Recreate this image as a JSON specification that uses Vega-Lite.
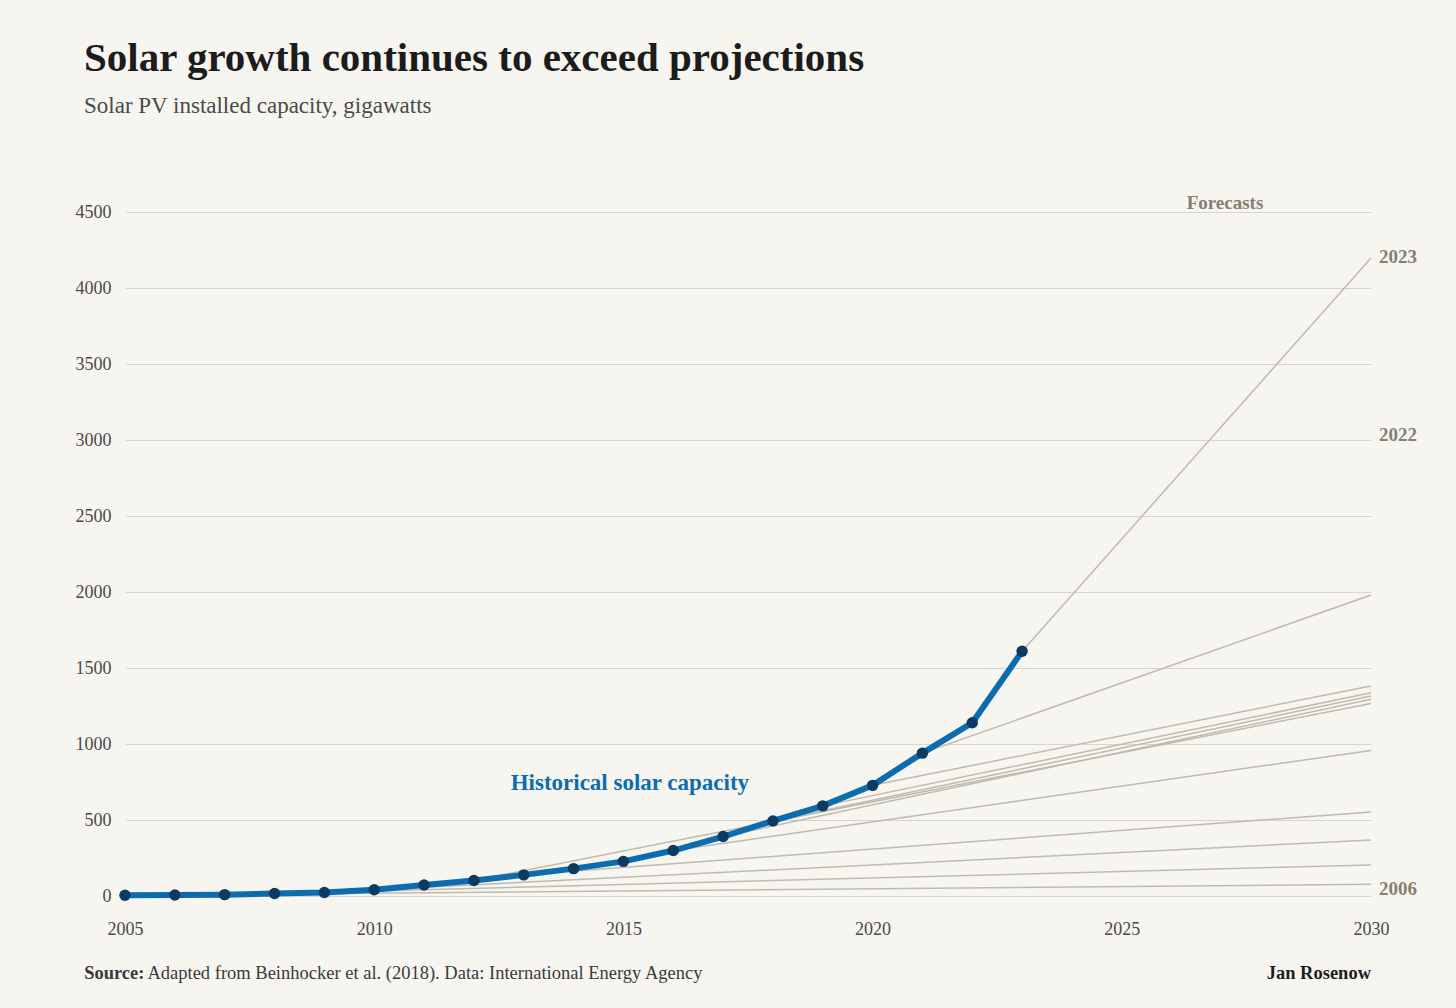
{
  "$schema": "https://vega.github.io/schema/vega-lite/v6.json",
  "width": 1246,
  "height": 684,
  "autosize": {"type": "none"},
  "padding": {"left": 125, "top": 212, "right": 85, "bottom": 112},
  "background": "#f7f5f0",
  "title": {
    "text": "Solar growth continues to exceed projections",
    "subtitle": "Solar PV installed capacity, gigawatts",
    "anchor": "start",
    "frame": "group",
    "dx": -41,
    "offset": 75,
    "font": "Liberation Serif",
    "fontSize": 41,
    "fontWeight": "bold",
    "color": "#1c1c1c",
    "subtitleFont": "Liberation Serif",
    "subtitleFontSize": 23,
    "subtitleColor": "#4a4a4a",
    "subtitlePadding": 15
  },
  "config": {
    "view": {"stroke": null},
    "font": "Liberation Serif"
  },
  "datasets": {
    "historical": [
      {"year": 2005, "gw": 5}, {"year": 2006, "gw": 7}, {"year": 2007, "gw": 9},
      {"year": 2008, "gw": 16}, {"year": 2009, "gw": 23}, {"year": 2010, "gw": 41},
      {"year": 2011, "gw": 72}, {"year": 2012, "gw": 102}, {"year": 2013, "gw": 139},
      {"year": 2014, "gw": 180}, {"year": 2015, "gw": 228}, {"year": 2016, "gw": 299},
      {"year": 2017, "gw": 391}, {"year": 2018, "gw": 494}, {"year": 2019, "gw": 593},
      {"year": 2020, "gw": 728}, {"year": 2021, "gw": 940}, {"year": 2022, "gw": 1140},
      {"year": 2023, "gw": 1610}
    ],
    "forecasts": [
      {"forecast": "2006", "year": 2006, "gw": 7}, {"forecast": "2006", "year": 2030, "gw": 77},
      {"forecast": "2008", "year": 2008, "gw": 16}, {"forecast": "2008", "year": 2030, "gw": 204},
      {"forecast": "2010", "year": 2010, "gw": 41}, {"forecast": "2010", "year": 2030, "gw": 368},
      {"forecast": "2013", "year": 2013, "gw": 139}, {"forecast": "2013", "year": 2030, "gw": 553},
      {"forecast": "2016", "year": 2016, "gw": 299}, {"forecast": "2016", "year": 2030, "gw": 958},
      {"forecast": "2012", "year": 2012, "gw": 102}, {"forecast": "2012", "year": 2030, "gw": 1267},
      {"forecast": "2017", "year": 2017, "gw": 391}, {"forecast": "2017", "year": 2030, "gw": 1294},
      {"forecast": "2018", "year": 2018, "gw": 494}, {"forecast": "2018", "year": 2030, "gw": 1316},
      {"forecast": "2019", "year": 2019, "gw": 593}, {"forecast": "2019", "year": 2030, "gw": 1337},
      {"forecast": "2020", "year": 2020, "gw": 728}, {"forecast": "2020", "year": 2030, "gw": 1382},
      {"forecast": "2021", "year": 2021, "gw": 940}, {"forecast": "2021", "year": 2030, "gw": 1980},
      {"forecast": "2023", "year": 2023, "gw": 1610}, {"forecast": "2023", "year": 2030, "gw": 4197}
    ],
    "endLabels": [
      {"label": "2023", "year": 2030, "gw": 4204},
      {"label": "2022", "year": 2030, "gw": 3033},
      {"label": "2006", "year": 2030, "gw": 46}
    ]
  },
  "encoding": {
    "x": {
      "field": "year", "type": "quantitative",
      "scale": {"domain": [2005, 2030], "nice": false, "zero": false},
      "axis": {
        "values": [2005, 2010, 2015, 2020, 2025, 2030], "format": "d",
        "labelFlush": false, "labelPadding": 24, "grid": false,
        "domain": false, "ticks": false, "title": null,
        "labelFont": "Liberation Serif", "labelFontSize": 18, "labelColor": "#4a4a4a"
      }
    },
    "y": {
      "field": "gw", "type": "quantitative",
      "scale": {"domain": [0, 4500], "nice": false},
      "axis": {
        "values": [0, 500, 1000, 1500, 2000, 2500, 3000, 3500, 4000, 4500], "format": "d",
        "labelPadding": 14, "grid": true, "gridColor": "#d9d5cc", "gridWidth": 1,
        "domain": false, "ticks": false, "title": null,
        "labelFont": "Liberation Serif", "labelFontSize": 18, "labelColor": "#4a4a4a"
      }
    }
  },
  "layer": [
    {
      "data": {"name": "forecasts"},
      "mark": {"type": "line", "color": "#bfbaae", "strokeWidth": 1.5},
      "encoding": {"detail": {"field": "forecast"}}
    },
    {
      "data": {"name": "historical"},
      "mark": {"type": "line", "color": "#0b6db0", "strokeWidth": 6}
    },
    {
      "data": {"name": "historical"},
      "mark": {"type": "point", "filled": true, "color": "#0c3a63", "opacity": 1, "size": 130}
    },
    {
      "data": {"name": "endLabels"},
      "mark": {"type": "text", "align": "left", "baseline": "middle", "dx": 8, "fontSize": 19, "fontWeight": "bold", "color": "#857f72", "font": "Liberation Serif"},
      "encoding": {"text": {"field": "label"}}
    },
    {
      "data": {"values": [{"label": "Forecasts", "year": 2027.07, "gw": 4560}]},
      "mark": {"type": "text", "align": "center", "baseline": "middle", "fontSize": 19, "fontWeight": "bold", "color": "#857f72", "font": "Liberation Serif"},
      "encoding": {"text": {"field": "label"}}
    },
    {
      "data": {"values": [{"label": "Historical solar capacity", "year": 2015.13, "gw": 743}]},
      "mark": {"type": "text", "align": "center", "baseline": "middle", "fontSize": 23, "fontWeight": "bold", "color": "#0b6db0", "font": "Liberation Serif"},
      "encoding": {"text": {"field": "label"}}
    },
    {
      "data": {"values": [{"label": "Source:", "year": 2004.18, "gw": -507}]},
      "mark": {"type": "text", "align": "left", "baseline": "middle", "fontSize": 18.5, "fontWeight": "bold", "color": "#3a3a3a", "font": "Liberation Serif"},
      "encoding": {"text": {"field": "label"}}
    },
    {
      "data": {"values": [{"label": "Adapted from Beinhocker et al. (2018). Data: International Energy Agency", "year": 2005.45, "gw": -507}]},
      "mark": {"type": "text", "align": "left", "baseline": "middle", "fontSize": 18.5, "fontWeight": "normal", "color": "#3a3a3a", "font": "Liberation Serif"},
      "encoding": {"text": {"field": "label"}}
    },
    {
      "data": {"values": [{"label": "Jan Rosenow", "year": 2030, "gw": -507}]},
      "mark": {"type": "text", "align": "right", "baseline": "middle", "fontSize": 18.5, "fontWeight": "bold", "color": "#1c1c1c", "font": "Liberation Serif"},
      "encoding": {"text": {"field": "label"}}
    }
  ]
}
